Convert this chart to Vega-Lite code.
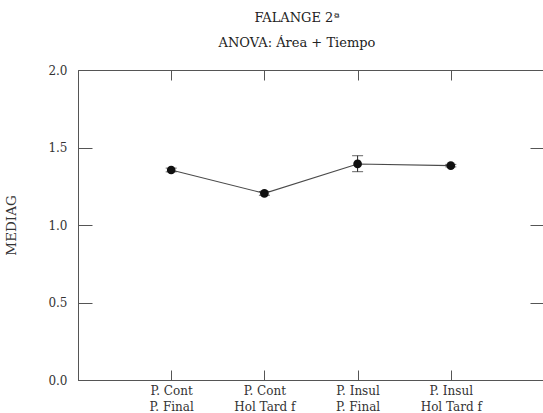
{
  "$schema": "https://vega.github.io/schema/vega-lite/v6.json",
  "width": 466,
  "height": 310,
  "autosize": "none",
  "padding": {"left": 78, "top": 70, "right": 0, "bottom": 33},
  "title": {
    "text": "FALANGE 2ª",
    "subtitle": "ANOVA: Área + Tiempo",
    "anchor": "middle",
    "dx": -14,
    "offset": 14,
    "fontSize": 13,
    "fontWeight": "normal",
    "font": "DejaVu Serif",
    "color": "#222",
    "subtitleFont": "DejaVu Serif",
    "subtitleFontSize": 13,
    "subtitleColor": "#222",
    "subtitlePadding": 12
  },
  "config": {
    "font": "DejaVu Serif",
    "view": {"stroke": "#555", "strokeWidth": 1},
    "axis": {
      "domainColor": "#555",
      "tickColor": "#555",
      "labelColor": "#333",
      "titleColor": "#333",
      "labelFont": "DejaVu Serif",
      "titleFont": "DejaVu Serif",
      "labelFontSize": 12,
      "titleFontSize": 13.5,
      "titleFontWeight": "normal",
      "grid": false
    }
  },
  "data": {
    "values": [
      {"grupo": "P. Cont\nP. Final", "orden": 1, "media": 1.355, "lo": 1.343, "hi": 1.367},
      {"grupo": "P. Cont\nHol Tard f", "orden": 2, "media": 1.204, "lo": 1.192, "hi": 1.216},
      {"grupo": "P. Insul\nP. Final", "orden": 3, "media": 1.394, "lo": 1.344, "hi": 1.447},
      {"grupo": "P. Insul\nHol Tard f", "orden": 4, "media": 1.383, "lo": 1.375, "hi": 1.391}
    ]
  },
  "encoding": {
    "x": {
      "field": "grupo",
      "type": "ordinal",
      "sort": {"field": "orden"},
      "scale": {"type": "point", "padding": 1}
    }
  },
  "layer": [
    {
      "mark": {"type": "line", "color": "#4a4a4a", "strokeWidth": 1.1},
      "encoding": {
        "x": {
          "field": "grupo",
          "type": "ordinal",
          "sort": {"field": "orden"},
          "scale": {"type": "point", "padding": 1},
          "axis": {
            "orient": "bottom",
            "title": null,
            "labelAngle": 0,
            "labelExpr": "split(datum.label, '\\n')",
            "labelLineHeight": 16,
            "tickSize": -10,
            "labelPadding": 15,
            "labelBaseline": "top"
          }
        },
        "y": {
          "field": "media",
          "type": "quantitative",
          "scale": {"domain": [0, 2], "nice": false, "zero": true},
          "axis": {
            "orient": "left",
            "title": "MEDIAG",
            "values": [0, 0.5, 1, 1.5, 2],
            "format": ".1f",
            "tickSize": -14,
            "labelPadding": 25,
            "titlePadding": 29
          }
        }
      }
    },
    {
      "mark": {"type": "errorbar", "ticks": {"size": 11, "color": "#222"}, "rule": {"color": "#222"}},
      "encoding": {
        "y": {"field": "lo", "type": "quantitative", "axis": null},
        "y2": {"field": "hi"},
        "x": {"field": "grupo", "type": "ordinal", "sort": {"field": "orden"}, "axis": null}
      }
    },
    {
      "mark": {"type": "point", "filled": true, "color": "#111", "opacity": 1, "size": 75, "shape": "circle"},
      "encoding": {
        "x": {
          "field": "grupo",
          "type": "ordinal",
          "sort": {"field": "orden"},
          "axis": {"orient": "top", "title": null, "labels": false, "domain": false, "tickSize": -10}
        },
        "y": {
          "field": "media",
          "type": "quantitative",
          "axis": {"orient": "right", "title": null, "labels": false, "domain": false, "values": [0, 0.5, 1, 1.5, 2], "tickSize": -14}
        }
      }
    }
  ],
  "resolve": {"axis": {"x": "independent", "y": "independent"}}
}
